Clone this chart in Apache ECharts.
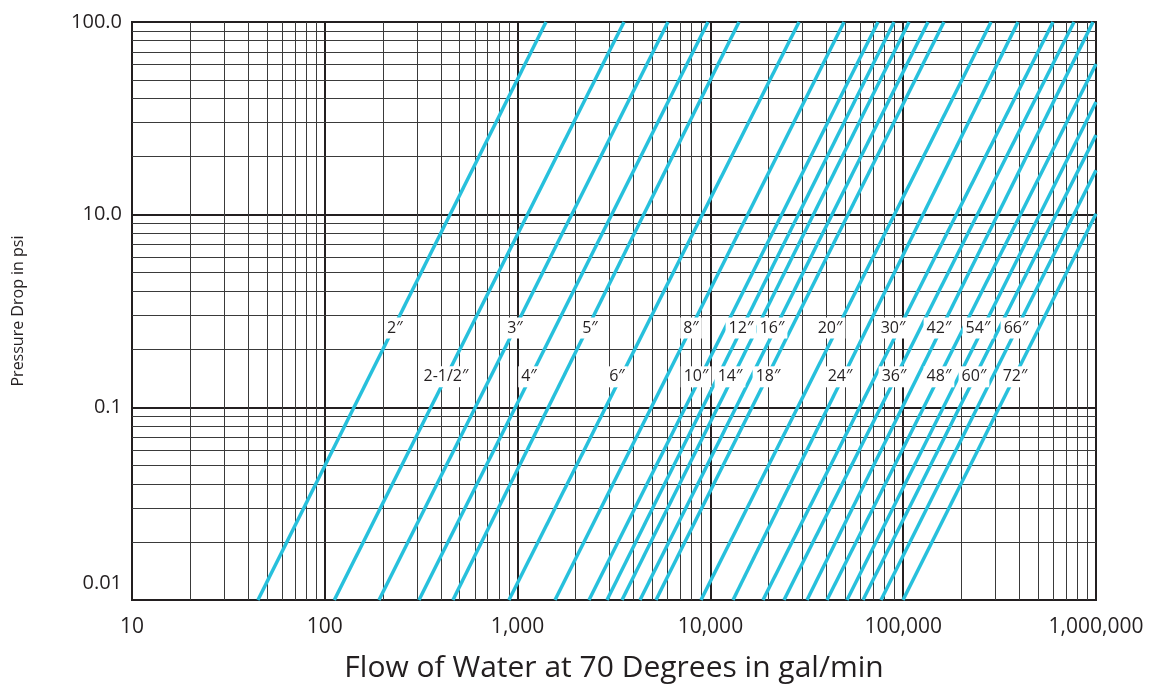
<!DOCTYPE html>
<html>
<head>
<meta charset="utf-8">
<title>Pressure Drop</title>
<script src="https://cdn.jsdelivr.net/npm/echarts@6/dist/echarts.min.js"></script>
<style>
html, body { margin: 0; padding: 0; background: #fff; }
#id-div-chart { width: 1153px; height: 692px; }
</style>
</head>
<body>
<div id="id-div-chart"></div>
<script>
var log = console.log.bind(console)

var e = (selector) => document.querySelector(selector)

// pipe sizes, in the order the lines appear from left to right
var sizes = ['2″', '2-1/2″', '3″', '4″', '5″', '6″', '8″', '10″', '12″', '14″', '16″', '18″', '20″', '24″', '30″', '36″', '42″', '48″', '54″', '60″', '66″', '72″']

// where each line enters, at the bottom edge (gal/min, psi)
var startFlow = [45, 112, 191, 308, 462, 902, 1563, 2346, 2908, 3479, 4314, 5222, 8937, 13100, 18740, 24080, 31700, 40250, 51100, 61880, 76700, 99770]
var startPsi = [0.01, 0.01, 0.01, 0.01, 0.01, 0.01, 0.01, 0.01, 0.01, 0.01, 0.01, 0.01, 0.01, 0.01, 0.01, 0.01, 0.01, 0.01, 0.01, 0.01, 0.01, 0.01]

// where each line leaves, at the top or the right edge
var endFlow = [1404, 3563, 6027, 9719, 14070, 28810, 49310, 74030, 89600, 107200, 134500, 162700, 285400, 393900, 598400, 768900, 964700, 1000000, 1000000, 1000000, 1000000, 1000000]
var endPsi = [10, 10, 10, 10, 10, 10, 10, 10, 10, 10, 10, 10, 10, 10, 10, 10, 10, 6.05, 3.84, 2.59, 1.70, 1.01]

// size labels sitting on the lines
var labelFlow = [231, 425, 969, 1146, 2374, 3278, 7933, 8421, 14410, 12640, 20870, 19900, 41720, 47010, 88540, 89600, 153300, 153300, 244300, 232900, 384700, 380100]
var labelPsi = [0.258, 0.144, 0.258, 0.144, 0.258, 0.144, 0.258, 0.144, 0.258, 0.144, 0.258, 0.144, 0.258, 0.144, 0.258, 0.144, 0.258, 0.144, 0.258, 0.144, 0.258, 0.144]

// tick labels, one per decade
var xTickLabels = ['10', '100', '1,000', '10,000', '100,000', '1,000,000']
var yTickLabels = ['0.01', '0.1', '10.0', '100.0']

var xDecades = [10, 100, 1000, 10000, 100000]
var yDecades = [0.01, 0.1, 1]

var font = 'Open Sans'
var ink = '#231f20'
var cyan = '#27c0dc'

var minorLines = function() {
    var lines = []
    for (var i = 0; i < xDecades.length; i++) {
        for (var m = 2; m < 10; m++) {
            lines.push({xAxis: xDecades[i] * m})
        }
    }
    for (var j = 0; j < yDecades.length; j++) {
        for (var n = 2; n < 10; n++) {
            lines.push({yAxis: +(yDecades[j] * n).toPrecision(3)})
        }
    }
    return lines
}

var pipeSeries = function() {
    var list = []
    for (var i = 0; i < sizes.length; i++) {
        var s = {
            name: sizes[i],
            type: 'line',
            showSymbol: false,
            silent: true,
            lineStyle: {color: cyan, width: 3.5},
            data: [[startFlow[i], startPsi[i]], [endFlow[i], endPsi[i]]],
            markPoint: {
                symbol: 'rect',
                symbolSize: 0,
                silent: true,
                label: {
                    show: true,
                    position: 'inside',
                    formatter: sizes[i],
                    color: ink,
                    fontFamily: font,
                    fontSize: 16,
                    backgroundColor: '#fff',
                    padding: [3, 3, 2, 3],
                },
                data: [{coord: [labelFlow[i], labelPsi[i]]}],
            },
        }
        list.push(s)
    }
    // thin log grid lines
    list[0].markLine = {
        z: 1,
        silent: true,
        symbol: ['none', 'none'],
        label: {show: false},
        lineStyle: {color: '#3a3a3a', width: 1, type: 'solid'},
        emphasis: {disabled: true},
        data: minorLines(),
    }
    return list
}

var chartOption = function() {
    var option = {
        animation: false,
        backgroundColor: '#fff',
        grid: {
            left: 132,
            right: 57,
            top: 22,
            bottom: 92,
            show: true,
            borderColor: ink,
            borderWidth: 2,
        },
        xAxis: {
            type: 'log',
            logBase: 10,
            min: 10,
            max: 1000000,
            name: 'Flow of Water at 70 Degrees in gal/min',
            nameLocation: 'middle',
            nameGap: 53,
            nameTextStyle: {color: ink, fontFamily: font, fontSize: 30},
            axisLine: {lineStyle: {color: ink, width: 2}},
            axisTick: {show: false},
            axisLabel: {
                color: ink,
                fontFamily: font,
                fontSize: 21,
                margin: 17,
                formatter: function(v) {
                    return xTickLabels[Math.round(Math.log10(v)) - 1]
                },
            },
            splitLine: {show: true, lineStyle: {color: ink, width: 2}},
        },
        yAxis: {
            type: 'log',
            logBase: 10,
            min: 0.01,
            max: 10,
            name: 'Pressure Drop in psi',
            nameLocation: 'middle',
            nameGap: 106,
            nameTextStyle: {color: ink, fontFamily: font, fontSize: 16},
            axisLine: {lineStyle: {color: ink, width: 2}},
            axisTick: {show: false},
            axisLabel: {
                color: ink,
                fontFamily: font,
                fontSize: 20,
                margin: 10,
                formatter: function(v) {
                    var k = Math.round(Math.log10(v)) + 2
                    if (k == 0) {
                        return '{low|' + yTickLabels[k] + '}'
                    }
                    return yTickLabels[k]
                },
                rich: {
                    low: {color: ink, fontFamily: font, fontSize: 20, padding: [0, 0, 34, 0]},
                },
            },
            splitLine: {show: true, lineStyle: {color: ink, width: 2}},
        },
        series: pipeSeries(),
    }
    return option
}

var __main = function() {
    var chart = echarts.init(e('#id-div-chart'))
    chart.setOption(chartOption())
}

__main()
</script>
</body>
</html>
